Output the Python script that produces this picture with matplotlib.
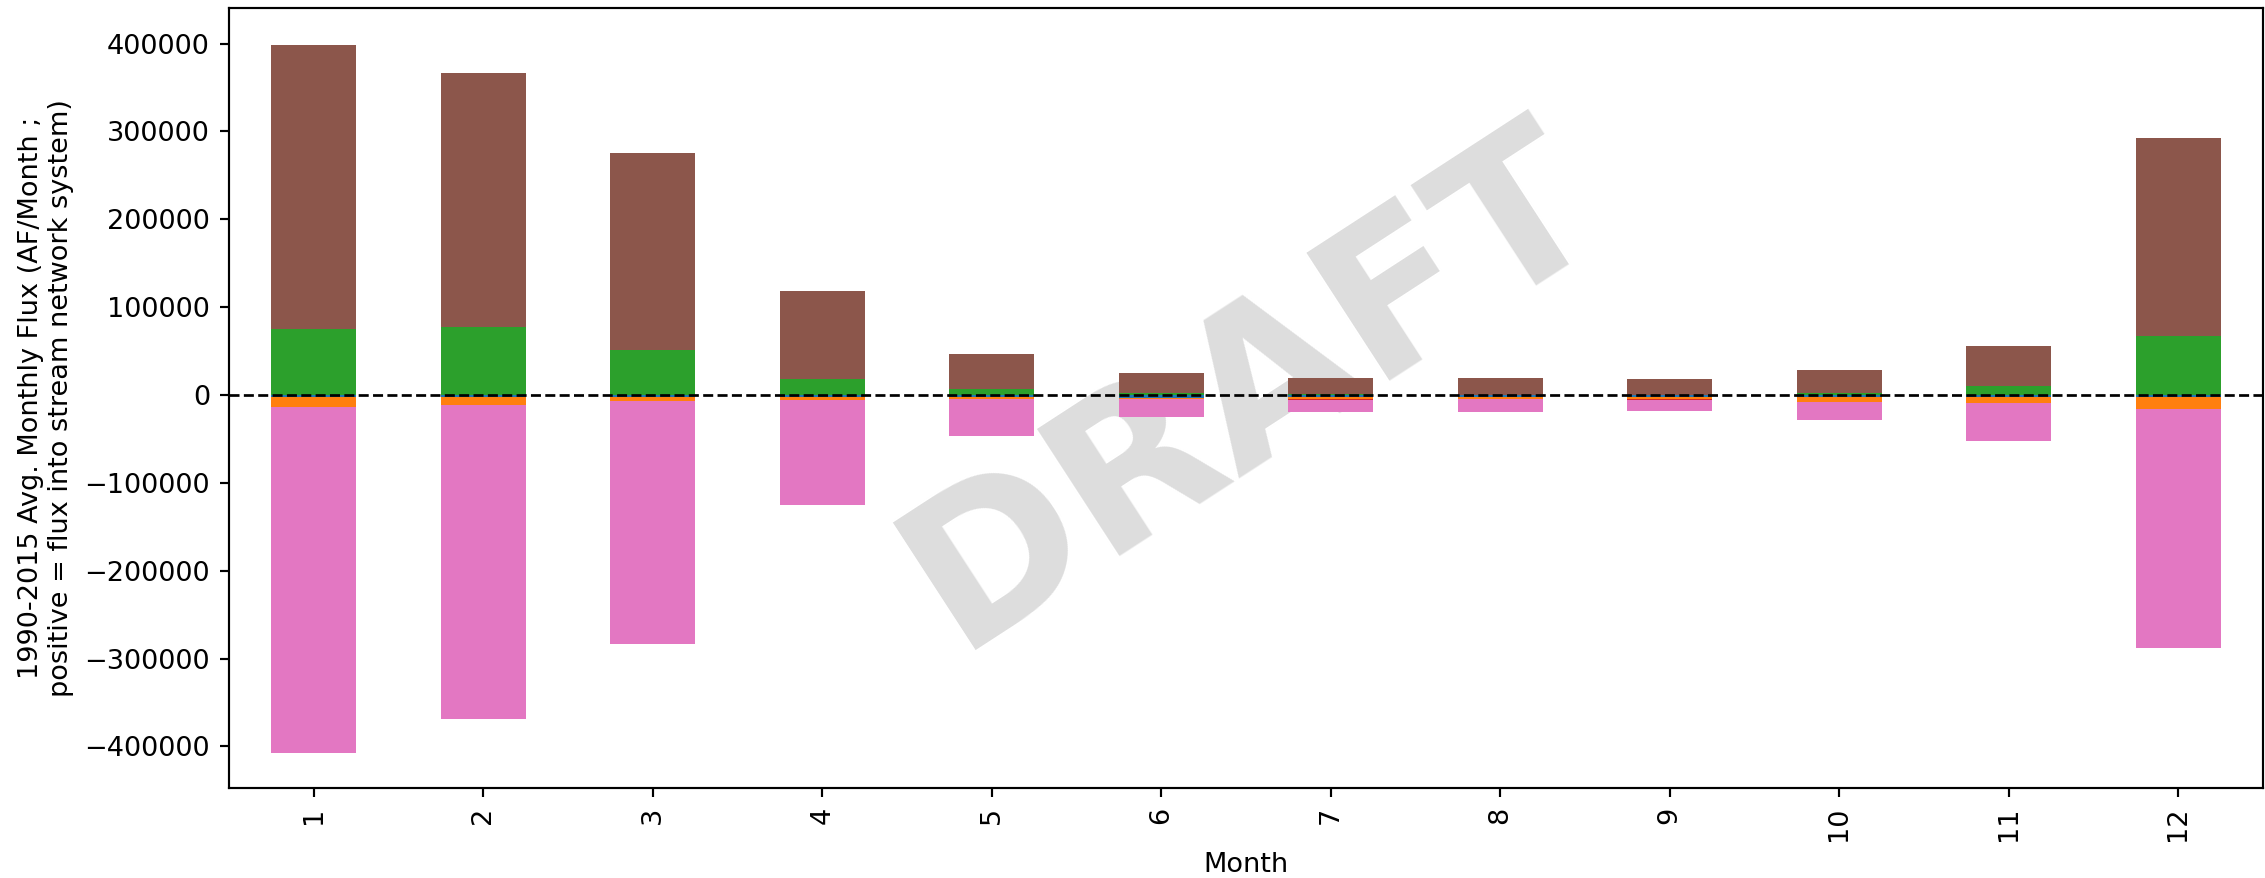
"""
Average monthly stream network flux budget, 1990-2015.

Stacked bars per month: inflows above zero, outflows below.
"""

import pandas as pd
import matplotlib
matplotlib.use('Agg')
import matplotlib.pyplot as plt


months = [1, 2, 3, 4, 5, 6, 7, 8, 9, 10, 11, 12]

# Flux components (AF/month), in stacking order
overland_flow = [-2500, -2500, -2500, -2500, -2500, -3000, -2500, -2500, -2500, -2500, -2500, -2500]
diversions = [-11200, -8900, -4700, -3000, -2400, -1000, -2000, -2000, -2000, -5000, -6600, -13400]
baseflow = [75700, 77000, 51000, 18000, 6500, 2700, 1000, 500, 500, 2000, 9900, 67500]
evaporation = [0, 0, 0, 0, 0, 0, -1000, -500, -800, 0, 0, 0]
pumping = [-500, -300, 0, 0, 0, -500, 0, 0, 0, 0, 0, 0]
tributary_inflow = [322900, 290000, 224000, 100500, 39900, 22000, 18000, 18500, 17400, 26200, 45600, 225500]
stream_outflow = [-393800, -357600, -275800, -119500, -42200, -20900, -13900, -14400, -12900, -21000, -43300, -272100]

DPI = 195


def plot_monthly_flux(save_path='out.png'):
    df = pd.DataFrame({
        'Overland Flow': overland_flow,
        'Diversions': diversions,
        'Baseflow': baseflow,
        'Evaporation': evaporation,
        'Pumping': pumping,
        'Tributary Inflow': tributary_inflow,
        'Stream Outflow': stream_outflow,
    }, index=pd.Index(months, name='Month'))

    fig = plt.figure(figsize=(2265 / DPI, 878 / DPI), dpi=DPI)
    ax = fig.add_axes([229 / 2265, 90 / 878, 2034 / 2265, 780 / 878])

    # DRAFT watermark sits behind the bars
    ax.text(0.503, 0.511, 'DRAFT', transform=ax.transAxes,
            ha='center', va='center', rotation=33,
            fontsize=77, fontweight='bold', color='#dddddd', zorder=0)

    df.plot(kind='bar', stacked=True, ax=ax, legend=False, width=0.5)

    ax.axhline(y=0, color='black', linestyle='--', linewidth=1)

    ax.set_xlim(-0.5, 11.5)
    ax.set_ylim(-447300, 440500)
    ax.set_xlabel('Month')
    ax.set_ylabel('1990-2015 Avg. Monthly Flux (AF/Month ;\n'
                  'positive = flux into stream network system)')

    fig.savefig(save_path, dpi=DPI)


if __name__ == "__main__":
    plot_monthly_flux()
